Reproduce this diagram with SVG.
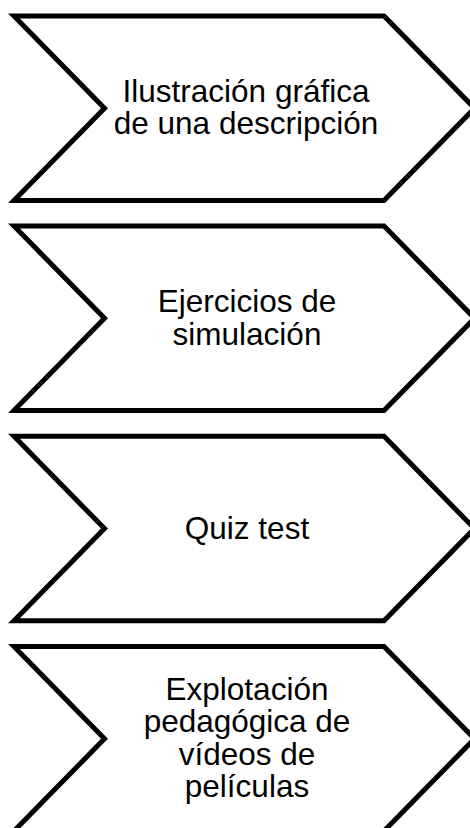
<svg xmlns="http://www.w3.org/2000/svg" width="470" height="828" viewBox="0 0 470 828">
<style>
.chev{fill:#ffffff;stroke:#000000;stroke-width:5;stroke-linejoin:miter;stroke-miterlimit:10}
.lbl{font-family:"Liberation Sans",Arial,sans-serif;font-size:31.5px;fill:#000000;text-anchor:middle}
</style>
<defs>
<path id="chevron" d="M14,0 L384,0 L474.5,92.25 L384,184.5 L14,184.5 L104.5,92.25 Z"/>
</defs>
<rect width="470" height="828" fill="#ffffff"/>
<g id="connectors"/>
<g id="node1">
<use href="#chevron" class="chev" transform="translate(0,16)"/>
<text class="lbl"><tspan x="246" y="101.8">Ilustración gráfica</tspan><tspan x="246" y="134.3">de una descripción</tspan></text>
</g>
<g id="node2">
<use href="#chevron" class="chev" transform="translate(0,226)"/>
<text class="lbl"><tspan x="247" y="312">Ejercicios de</tspan><tspan x="247" y="344.5">simulación</tspan></text>
</g>
<g id="node3">
<use href="#chevron" class="chev" transform="translate(0,436.3)"/>
<text class="lbl" x="247" y="538.5">Quiz test</text>
</g>
<g id="node4">
<use href="#chevron" class="chev" transform="translate(0,646.5)"/>
<text class="lbl"><tspan x="247" y="699.5">Explotación</tspan><tspan x="247" y="732">pedagógica de</tspan><tspan x="247" y="764.5">vídeos de</tspan><tspan x="247" y="797">películas</tspan></text>
</g>
</svg>
